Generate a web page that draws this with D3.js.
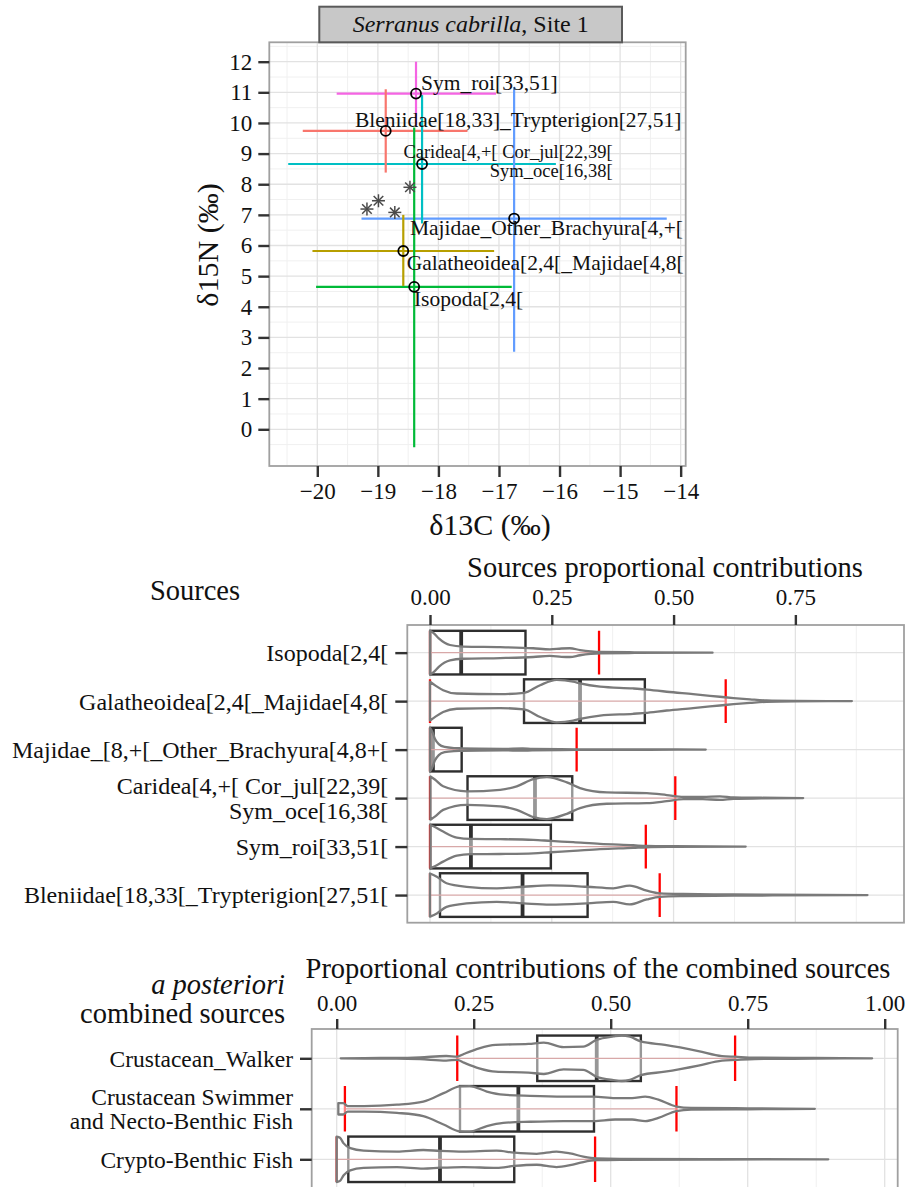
<!DOCTYPE html>
<html><head><meta charset="utf-8">
<script src="https://cdn.jsdelivr.net/npm/d3@7"></script>
<style>
body{margin:0;background:#fff;}
svg{display:block;font-family:"Liberation Serif","Times New Roman",serif;}
</style></head><body>
<svg id="chart" width="905" height="1187"></svg>
<script>
// ================= DATA =================
// --- Top panel: isotopic biplot (sources mean ± sd, consumers) ---
const isoSources = ["Bleniidae", "Sym_roi", "Caridea", "Majidae_Other_Brachyura", "Galatheoidea", "Isopoda"];
const isoColors  = ["#F8766D", "#F564E3", "#00BFC4", "#619CFF", "#B79F00", "#00BA38"];
const meanC = [-18.87, -18.37, -18.27, -16.75, -18.58, -18.40];
const meanN = [9.74, 10.96, 8.66, 6.88, 5.82, 4.65];
const cLow  = [-20.24, -19.68, -20.48, -19.27, -20.08, -20.02];
const cHigh = [-17.52, -17.05, -16.06, -14.23, -17.08, -16.79];
const nLow  = [8.38, 9.92, 6.72, 2.53, 4.68, -0.59];
const nHigh = [11.10, 12.00, 10.91, 11.17, 7.00, 9.85];
const consumerC = [-19.18, -18.99, -18.72, -18.47];
const consumerN = [7.19, 7.46, 7.08, 7.90];
const isoLabelLines = [["Sym_roi[33,51]"], ["Bleniidae[18,33]_Trypterigion[27,51]"],
  ["Caridea[4,+[ Cor_jul[22,39[", "Sym_oce[16,38["], ["Majidae_Other_Brachyura[4,+["],
  ["Galatheoidea[2,4[_Majidae[4,8["], ["Isopoda[2,4["]];
const isoLabelC = [-18.288, -19.378, -15.123, -18.47, -18.524, -18.404];
const isoLabelN = [11.08, 9.88, 8.857, 6.343, 5.20, 4.025];
const isoLabelAnchor = ["start", "start", "end", "start", "start", "start"];
const xTicksTop = [-20, -19, -18, -17, -16, -15, -14];
const yTicksTop = [0, 1, 2, 3, 4, 5, 6, 7, 8, 9, 10, 11, 12];

// --- Middle panel: sources proportional contributions ---
const srcCats = [["Isopoda[2,4["], ["Galatheoidea[2,4[_Majidae[4,8["], ["Majidae_[8,+[_Other_Brachyura[4,8+["],
  ["Caridea[4,+[ Cor_jul[22,39[", "Sym_oce[16,38["], ["Sym_roi[33,51["], ["Bleniidae[18,33[_Trypterigion[27,51["]];
const srcQ1  = [0.001, 0.193, 0.001, 0.077, 0.001, 0.0205];
const srcMed = [0.064, 0.308, 0.006, 0.2155, 0.084, 0.190];
const srcQ3  = [0.196, 0.441, 0.065, 0.292, 0.248, 0.3235];
const srcCiLo = [0.0, 0.0, 0.0, 0.0, 0.0, 0.0];
const srcCiHi = [0.347, 0.607, 0.301, 0.5035, 0.443, 0.4715];
const srcViolins = [
  [[0.0,1],[0.008,0.88],[0.018,0.65],[0.03,0.45],[0.041,0.35],[0.068,0.28],[0.144,0.25],[0.212,0.2],[0.246,0.15],[0.27,0.19],[0.287,0.2],[0.308,0.12],[0.33,0.06],[0.349,0.03],[0.42,0.015],[0.58,0]],
  [[0.0,0.89],[0.012,0.7],[0.027,0.5],[0.055,0.35],[0.144,0.32],[0.193,0.38],[0.226,0.73],[0.26,0.97],[0.294,0.89],[0.308,0.81],[0.349,0.66],[0.417,0.58],[0.441,0.54],[0.486,0.43],[0.54,0.32],[0.595,0.2],[0.623,0.14],[0.657,0.08],[0.691,0.03],[0.75,0.01],[0.866,0]],
  [[0.0,1],[0.004,0.85],[0.01,0.5],[0.018,0.25],[0.03,0.12],[0.05,0.07],[0.065,0.06],[0.1,0.04],[0.15,0.03],[0.19,0.05],[0.21,0.03],[0.3,0.015],[0.45,0.008],[0.566,0]],
  [[0.001,0.99],[0.01,0.85],[0.027,0.54],[0.075,0.31],[0.144,0.38],[0.178,0.54],[0.212,0.87],[0.24,0.96],[0.281,0.72],[0.308,0.46],[0.363,0.26],[0.445,0.23],[0.486,0.14],[0.52,0.05],[0.56,0.05],[0.595,0.08],[0.623,0.03],[0.68,0.015],[0.766,0]],
  [[0.001,0.99],[0.01,0.9],[0.027,0.69],[0.055,0.41],[0.084,0.35],[0.144,0.34],[0.212,0.31],[0.248,0.26],[0.294,0.2],[0.349,0.12],[0.417,0.06],[0.445,0.03],[0.5,0.015],[0.648,0]],
  [[0.0,0.99],[0.014,0.84],[0.034,0.54],[0.075,0.38],[0.137,0.31],[0.192,0.38],[0.246,0.44],[0.322,0.38],[0.376,0.31],[0.41,0.43],[0.445,0.2],[0.472,0.08],[0.52,0.05],[0.623,0.03],[0.898,0]]
];
const srcTicks = [0, 0.25, 0.5, 0.75];

// --- Bottom panel: a posteriori combined sources ---
const combCats = [["Crustacean_Walker"], ["Crustacean Swimmer", "and Necto-Benthic Fish"], ["Crypto-Benthic Fish"]];
const combQ1  = [0.366, 0.225, 0.0212];
const combMed = [0.4745, 0.3315, 0.1885];
const combQ3  = [0.555, 0.4695, 0.324];
const combCiLo = [0.220, 0.015, 0.0];
const combCiHi = [0.727, 0.620, 0.4715];
const combViolins = [
  [[0.0073,0],[0.05,0.01],[0.109,0.015],[0.152,0.04],[0.2,0.1],[0.22,0.07],[0.232,0.19],[0.26,0.44],[0.29,0.59],[0.35,0.63],[0.378,0.69],[0.414,0.49],[0.45,0.51],[0.474,0.81],[0.505,0.96],[0.52,1.0],[0.535,0.95],[0.555,0.74],[0.599,0.59],[0.66,0.32],[0.703,0.1],[0.727,0.07],[0.763,0.03],[0.87,0.015],[0.977,0]],
  [[0.003,0.25],[0.012,0.25],[0.02,0.12],[0.05,0.12],[0.11,0.18],[0.158,0.32],[0.195,0.69],[0.225,0.99],[0.243,1.0],[0.274,0.76],[0.304,0.62],[0.353,0.57],[0.414,0.54],[0.469,0.54],[0.508,0.47],[0.539,0.47],[0.563,0.54],[0.587,0.4],[0.62,0.1],[0.647,0.04],[0.75,0.02],[0.8725,0]],
  [[0.0,1.0],[0.006,0.95],[0.0127,0.7],[0.0248,0.49],[0.049,0.38],[0.11,0.34],[0.158,0.41],[0.1885,0.37],[0.231,0.34],[0.292,0.38],[0.324,0.29],[0.365,0.24],[0.401,0.34],[0.426,0.26],[0.45,0.12],[0.474,0.04],[0.517,0.02],[0.7,0.01],[0.897,0]]
];
const combTicks = [0, 0.25, 0.5, 0.75, 1.0];

// ================= DRAW =================
const svg = d3.select("#chart");
svg.append("rect").attr("width", 905).attr("height", 1187).attr("fill", "#fff");
const GRID_MAJ = "#e2e2e2", GRID_MIN = "#f0f0f0", BORDER = "#a0a0a0", TICK = "#333";

function styleAxis(g, fs) {
  g.select(".domain").remove();
  g.selectAll(".tick line").attr("stroke", TICK).attr("stroke-width", 2.4);
  g.selectAll(".tick text").attr("fill", "#111").attr("font-size", fs)
    .attr("font-family", '"Liberation Serif","Times New Roman",serif');
}

// ---------- TOP PANEL ----------
const T = {l: 269.3, r: 685.7, t: 42.3, b: 466};
const xT = d3.scaleLinear().domain([-20.7925, -13.9168]).range([T.l, T.r]);
const yT = d3.scaleLinear().domain([-1.198, 12.633]).range([T.b, T.t]);
const topG = svg.append("g");
topG.append("rect").attr("x", T.l).attr("y", T.t).attr("width", T.r - T.l).attr("height", T.b - T.t).attr("fill", "#fff");
const xMinorT = d3.range(-20.5, -14, 1), yMinorT = d3.range(-0.5, 12.6, 1);
topG.selectAll(".gxm").data(xMinorT).join("line").attr("x1", d => xT(d)).attr("x2", d => xT(d)).attr("y1", T.t).attr("y2", T.b).attr("stroke", GRID_MIN).attr("stroke-width", 1);
topG.selectAll(".gym").data(yMinorT).join("line").attr("y1", d => yT(d)).attr("y2", d => yT(d)).attr("x1", T.l).attr("x2", T.r).attr("stroke", GRID_MIN).attr("stroke-width", 1);
topG.selectAll(".gxM").data(xTicksTop).join("line").attr("x1", d => xT(d)).attr("x2", d => xT(d)).attr("y1", T.t).attr("y2", T.b).attr("stroke", GRID_MAJ).attr("stroke-width", 1.3);
topG.selectAll(".gyM").data(yTicksTop).join("line").attr("y1", d => yT(d)).attr("y2", d => yT(d)).attr("x1", T.l).attr("x2", T.r).attr("stroke", GRID_MAJ).attr("stroke-width", 1.3);

const iIdx = d3.range(isoSources.length);
// error bars
topG.selectAll(".hb").data(iIdx).join("line")
  .attr("x1", i => xT(cLow[i])).attr("x2", i => xT(cHigh[i]))
  .attr("y1", i => yT(meanN[i])).attr("y2", i => yT(meanN[i]))
  .attr("stroke", i => isoColors[i]).attr("stroke-width", 2.2);
topG.selectAll(".vb").data(iIdx).join("line")
  .attr("x1", i => xT(meanC[i])).attr("x2", i => xT(meanC[i]))
  .attr("y1", i => yT(nLow[i])).attr("y2", i => yT(nHigh[i]))
  .attr("stroke", i => isoColors[i]).attr("stroke-width", 2.2);
// consumers (asterisks)
const star = topG.selectAll(".cons").data(d3.range(consumerC.length)).join("g")
  .attr("transform", i => `translate(${xT(consumerC[i])},${yT(consumerN[i])})`);
const s = 6.5, s2 = 4.8;
[[-s,0,s,0],[0,-s,0,s],[-s2,-s2,s2,s2],[-s2,s2,s2,-s2]].forEach(c => {
  star.append("line").attr("x1", c[0]).attr("y1", c[1]).attr("x2", c[2]).attr("y2", c[3])
    .attr("stroke", "#4a4a4a").attr("stroke-width", 1.5);
});
// means
topG.selectAll(".mean").data(iIdx).join("circle")
  .attr("cx", i => xT(meanC[i])).attr("cy", i => yT(meanN[i])).attr("r", 5)
  .attr("fill", "none").attr("stroke", "#000").attr("stroke-width", 1.8);
// labels
topG.selectAll(".lab").data(iIdx).join("text")
  .attr("x", i => xT(isoLabelC[i])).attr("y", i => yT(isoLabelN[i]))
  .attr("text-anchor", i => isoLabelAnchor[i])
  .attr("font-size", i => isoLabelLines[i].length > 1 ? 18.5 : 21.5)
  .attr("fill", "#111")
  .each(function(i) {
    const t = d3.select(this);
    isoLabelLines[i].forEach((ln, k) => {
      t.append("tspan").attr("x", xT(isoLabelC[i])).attr("dy", k === 0 ? 0 : 18.7).text(ln);
    });
  });
topG.append("rect").attr("x", T.l).attr("y", T.t).attr("width", T.r - T.l).attr("height", T.b - T.t)
  .attr("fill", "none").attr("stroke", BORDER).attr("stroke-width", 1.8);
// axes
styleAxis(svg.append("g").attr("transform", `translate(${T.l},0)`)
  .call(d3.axisLeft(yT).tickValues(yTicksTop).tickFormat(d3.format("d")).tickSize(11).tickPadding(6)), 23);
styleAxis(svg.append("g").attr("transform", `translate(0,${T.b})`)
  .call(d3.axisBottom(xT).tickValues(xTicksTop).tickFormat(d3.format("d")).tickSize(11).tickPadding(6)), 23);
// strip
svg.append("rect").attr("x", 319.3).attr("y", 6.7).attr("width", 302.7).attr("height", 35.6)
  .attr("fill", "#c8c8c8").attr("stroke", "#5a5a5a").attr("stroke-width", 2);
const st = svg.append("text").attr("x", 470.7).attr("y", 32.3).attr("text-anchor", "middle").attr("font-size", 24).attr("fill", "#111");
st.append("tspan").attr("font-style", "italic").text("Serranus cabrilla");
st.append("tspan").text(", Site 1");
// axis titles
svg.append("text").attr("transform", "translate(218,245) rotate(-90)").attr("text-anchor", "middle")
  .attr("font-size", 30).attr("fill", "#111").text("δ15N (‰)");
svg.append("text").attr("x", 490).attr("y", 535).attr("text-anchor", "middle")
  .attr("font-size", 30).attr("fill", "#111").text("δ13C (‰)");

// ---------- VIOLIN/BOX PANELS ----------
function violinPanel(P, cats, q1, med, q3, ciLo, ciHi, violins, ticks, xDom, yDom, catFont, lineH) {
  const x = d3.scaleLinear().domain(xDom).range([P.l, P.r]);
  const y = d3.scaleLinear().domain(yDom).range([P.t, P.b]);
  const band = y(2) - y(1);
  const half = 0.45 * band;
  const idx = d3.range(cats.length);
  const clipId = "clip" + Math.round(P.t);
  svg.append("clipPath").attr("id", clipId).append("rect").attr("x", P.l).attr("y", P.t).attr("width", P.r - P.l).attr("height", P.b - P.t);
  const g = svg.append("g").attr("clip-path", `url(#${clipId})`);
  g.append("rect").attr("x", P.l).attr("y", P.t).attr("width", P.r - P.l).attr("height", P.b - P.t).attr("fill", "#fff");
  const minor = d3.range(0.125, xDom[1], 0.25);
  g.selectAll(".gm").data(minor).join("line").attr("x1", d => x(d)).attr("x2", d => x(d)).attr("y1", P.t).attr("y2", P.b).attr("stroke", GRID_MIN).attr("stroke-width", 1);
  g.selectAll(".gM").data(ticks).join("line").attr("x1", d => x(d)).attr("x2", d => x(d)).attr("y1", P.t).attr("y2", P.b).attr("stroke", GRID_MAJ).attr("stroke-width", 1.3);
  g.selectAll(".gy").data(idx).join("line").attr("y1", i => y(i + 1)).attr("y2", i => y(i + 1)).attr("x1", P.l).attr("x2", P.r).attr("stroke", GRID_MAJ).attr("stroke-width", 1.3);
  // boxes
  g.selectAll(".box").data(idx).join("rect")
    .attr("x", i => x(q1[i])).attr("width", i => x(q3[i]) - x(q1[i]))
    .attr("y", i => y(i + 1) - half).attr("height", 2 * half)
    .attr("fill", "#fff").attr("stroke", "#2e2e2e").attr("stroke-width", 2.4);
  g.selectAll(".med").data(idx).join("line")
    .attr("x1", i => x(med[i])).attr("x2", i => x(med[i]))
    .attr("y1", i => y(i + 1) - half).attr("y2", i => y(i + 1) + half)
    .attr("stroke", "#2e2e2e").attr("stroke-width", 3.8);
  // credible interval (red)
  g.selectAll(".cil").data(idx).join("line")
    .attr("x1", i => x(ciLo[i])).attr("x2", i => x(ciHi[i]))
    .attr("y1", i => y(i + 1)).attr("y2", i => y(i + 1))
    .attr("stroke", "#b05050").attr("stroke-width", 1.2);
  [ciLo, ciHi].forEach((arr, a) => {
    g.selectAll(".ci" + a).data(idx).join("line")
      .attr("x1", i => x(arr[i])).attr("x2", i => x(arr[i]))
      .attr("y1", i => y(i + 1) - half).attr("y2", i => y(i + 1) + half)
      .attr("stroke", "#ff0000").attr("stroke-width", 2.3);
  });
  // violins
  g.selectAll(".vio").data(idx).join("path")
    .attr("d", i => {
      const cy = y(i + 1);
      return d3.area().curve(d3.curveMonotoneX)
        .x(d => x(d[0])).y0(d => cy - d[1] * half).y1(d => cy + d[1] * half)(violins[i]);
    })
    .attr("fill", "#fff").attr("fill-opacity", 0.5)
    .attr("stroke", "#7a7a7a").attr("stroke-width", 2.3).attr("stroke-linejoin", "round");
  svg.append("rect").attr("x", P.l).attr("y", P.t).attr("width", P.r - P.l).attr("height", P.b - P.t)
    .attr("fill", "none").attr("stroke", BORDER).attr("stroke-width", 1.8);
  // axes
  styleAxis(svg.append("g").attr("transform", `translate(0,${P.t})`)
    .call(d3.axisTop(x).tickValues(ticks).tickFormat(d3.format(".2f")).tickSize(10).tickPadding(P.tickPad)), 23);
  const ay = svg.append("g").attr("transform", `translate(${P.l},0)`)
    .call(d3.axisLeft(y).tickValues(idx.map(i => i + 1)).tickSize(P.catTick).tickFormat(""));
  styleAxis(ay, catFont);
  const labs = svg.append("g");
  labs.selectAll("text").data(idx).join("text")
    .attr("text-anchor", "end").attr("font-size", catFont).attr("fill", "#111")
    .each(function(i) {
      const t = d3.select(this);
      const n = cats[i].length;
      const y0 = y(i + 1) + 0.35 * catFont - lineH * (n - 1) / 2;
      cats[i].forEach((ln, k) => {
        t.append("tspan").attr("x", P.l - P.catTick - 7).attr("y", y0 + k * lineH).text(ln);
      });
    });
  return x;
}

// middle
violinPanel({l: 407.3, r: 904, t: 625, b: 922.7, tickPad: 10, catTick: 12},
  srcCats, srcQ1, srcMed, srcQ3, srcCiLo, srcCiHi, srcViolins, srcTicks,
  [-0.0466, 0.973], [0.43, 6.57], 24, 24.3);
svg.append("text").attr("x", 665).attr("y", 576.7).attr("text-anchor", "middle").attr("font-size", 28.5).attr("fill", "#111")
  .text("Sources proportional contributions");
svg.append("text").attr("x", 195).attr("y", 600).attr("text-anchor", "middle").attr("font-size", 28.5).attr("fill", "#111")
  .text("Sources");

// bottom
violinPanel({l: 311.7, r: 897.7, t: 1029, b: 1188.6, tickPad: 8, catTick: 11.7},
  combCats, combQ1, combMed, combQ3, combCiLo, combCiHi, combViolins, combTicks,
  [-0.0456, 1.0237], [0.42, 3.58], 23.5, 23.8);
svg.append("text").attr("x", 598).attr("y", 978.3).attr("text-anchor", "middle").attr("font-size", 28.5).attr("fill", "#111")
  .text("Proportional contributions of the combined sources");
svg.append("text").attr("x", 285).attr("y", 994.3).attr("text-anchor", "end").attr("font-size", 28.5).attr("font-style", "italic").attr("fill", "#111")
  .text("a posteriori");
svg.append("text").attr("x", 285).attr("y", 1022.7).attr("text-anchor", "end").attr("font-size", 28.5).attr("fill", "#111")
  .text("combined sources");
</script>
</body></html>
